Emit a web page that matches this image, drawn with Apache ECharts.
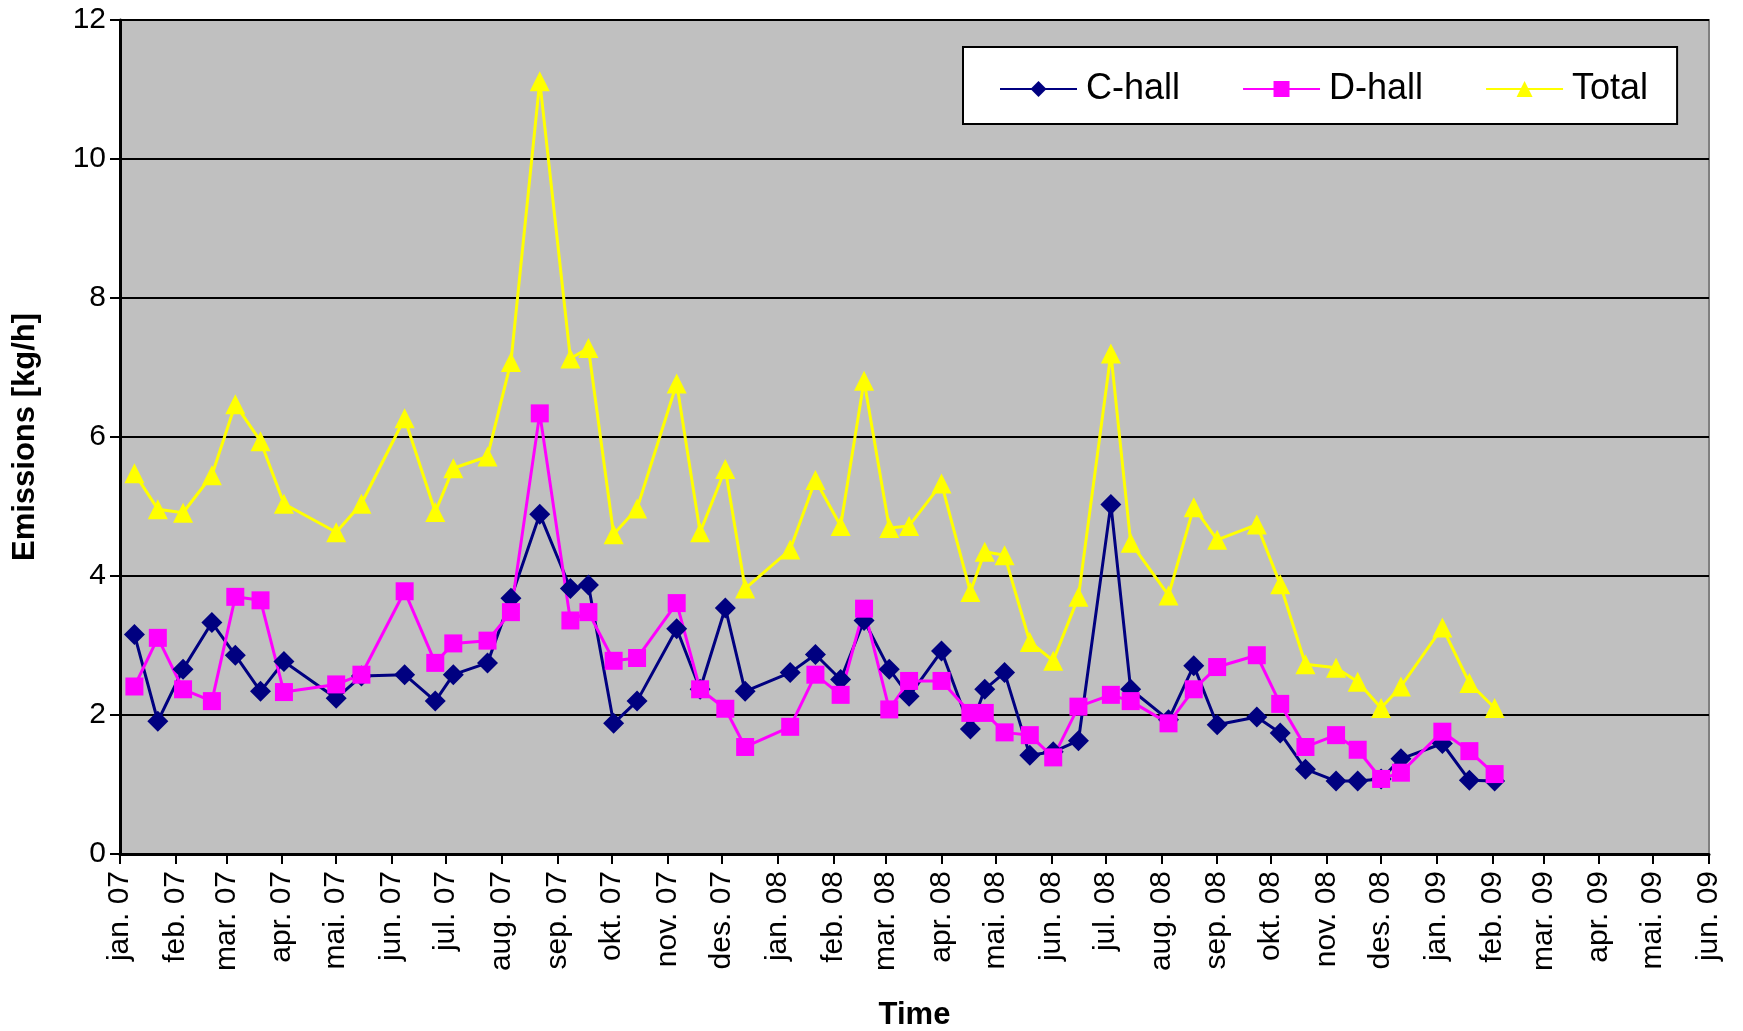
<!DOCTYPE html>
<html>
<head>
<meta charset="utf-8">
<title>Emissions</title>
<script src="https://cdn.jsdelivr.net/npm/echarts@6/dist/echarts.min.js"></script>
<style>
  html, body { margin: 0; padding: 0; background: #ffffff; }
  #chart { width: 1743px; height: 1031px; }
</style>
</head>
<body>
<div id="chart"></div>
<script>
// Sampling dates of the emission measurements
const sampleDates = [
  '2007-01-09', '2007-01-22', '2007-02-05', '2007-02-21', '2007-03-06', '2007-03-20',
  '2007-04-02', '2007-05-01', '2007-05-15', '2007-06-08', '2007-06-25', '2007-07-05',
  '2007-07-24', '2007-08-06', '2007-08-22', '2007-09-08', '2007-09-18', '2007-10-02',
  '2007-10-15', '2007-11-06', '2007-11-19', '2007-12-03', '2007-12-14', '2008-01-08',
  '2008-01-22', '2008-02-05', '2008-02-18', '2008-03-03', '2008-03-14', '2008-04-01',
  '2008-04-17', '2008-04-25', '2008-05-06', '2008-05-20', '2008-06-02', '2008-06-16',
  '2008-07-04', '2008-07-15', '2008-08-05', '2008-08-19', '2008-09-01', '2008-09-23',
  '2008-10-06', '2008-10-20', '2008-11-06', '2008-11-18', '2008-12-01', '2008-12-12',
  '2009-01-04', '2009-01-19', '2009-02-02'
];

// Emissions [kg/h]
const cHall = [
  3.16, 1.91, 2.66, 3.33, 2.86, 2.34, 2.77, 2.24, 2.56, 2.58, 2.20, 2.58,
  2.75, 3.68, 4.89, 3.82, 3.87, 1.88, 2.20, 3.24, 2.37, 3.54, 2.34, 2.61,
  2.87, 2.51, 3.36, 2.66, 2.27, 2.92, 1.80, 2.37, 2.61, 1.42, 1.47, 1.63,
  5.03, 2.37, 1.93, 2.71, 1.86, 1.97, 1.74, 1.22, 1.05, 1.05, 1.08, 1.37,
  1.59, 1.06, 1.05
];

const dHall = [
  2.41, 3.11, 2.37, 2.20, 3.70, 3.65, 2.33, 2.44, 2.58, 3.78, 2.75, 3.03,
  3.07, 3.48, 6.34, 3.36, 3.48, 2.78, 2.82, 3.61, 2.37, 2.09, 1.54, 1.83,
  2.58, 2.29, 3.53, 2.08, 2.49, 2.49, 2.03, 2.03, 1.75, 1.71, 1.39, 2.12,
  2.29, 2.20, 1.88, 2.37, 2.69, 2.86, 2.16, 1.54, 1.71, 1.50, 1.08, 1.17,
  1.76, 1.48, 1.15
];

const total = [
  5.48, 4.96, 4.91, 5.45, 6.47, 5.94, 5.04, 4.63, 5.04, 6.27, 4.92, 5.55,
  5.72, 7.08, 11.12, 7.13, 7.28, 4.60, 4.97, 6.77, 4.63, 5.54, 3.82, 4.38,
  5.38, 4.72, 6.81, 4.69, 4.72, 5.33, 3.77, 4.35, 4.30, 3.05, 2.78, 3.70,
  7.20, 4.48, 3.72, 4.99, 4.52, 4.74, 3.88, 2.73, 2.68, 2.48, 2.10, 2.41,
  3.26, 2.46, 2.10
];

// Month tick labels (Norwegian abbreviations)
const monthNames = ['jan.', 'feb.', 'mar.', 'apr.', 'mai.', 'jun.',
                    'jul.', 'aug.', 'sep.', 'okt.', 'nov.', 'des.'];
const axisStart = '2007-01-01';
const axisEnd = '2009-06-01';

const FONT = "'Liberation Sans', Arial, Helvetica, sans-serif";
const pairs = (vals) => sampleDates.map((d, i) => [d, vals[i]]);
const DAY = 24 * 3600 * 1000;

const chart = echarts.init(document.getElementById('chart'), null, { renderer: 'canvas' });

chart.setOption({
  animation: false,
  backgroundColor: '#ffffff',
  textStyle: { fontFamily: FONT },
  grid: {
    left: 120, right: 34, top: 20, bottom: 177,
    outerBoundsMode: 'none',
    containLabel: false,
    show: true,
    backgroundColor: '#c0c0c0',
    borderColor: '#808080',
    borderWidth: 2
  },
  legend: {
    left: 963, top: 47,
    backgroundColor: '#ffffff',
    borderColor: '#000000',
    borderWidth: 2,
    borderRadius: 0,
    padding: [24, 29, 17, 36],
    itemWidth: 77,
    itemHeight: 20,
    itemGap: 62,
    textStyle: { fontFamily: FONT, fontSize: 36, color: '#000000', padding: [0, 0, 0, 4] },
    data: ['C-hall', 'D-hall', 'Total']
  },
  xAxis: {
    type: 'time',
    min: axisStart,
    max: axisEnd,
    splitNumber: 29,
    minInterval: 28 * DAY,
    maxInterval: 31 * DAY,
    name: 'Time',
    nameLocation: 'middle',
    nameGap: 146,
    nameTextStyle: { fontFamily: FONT, fontSize: 31, fontWeight: 'bold', color: '#000000' },
    axisLine: { show: true, onZero: false, lineStyle: { color: '#000000', width: 3 } },
    axisTick: { show: true, inside: false, length: 10, lineStyle: { color: '#000000', width: 2 } },
    splitLine: { show: false },
    axisLabel: {
      rotate: 90,
      interval: 0,
      hideOverlap: false,
      margin: 17,
      fontFamily: FONT,
      fontSize: 30,
      color: '#000000',
      formatter: function (value) {
        const d = new Date(value);
        return monthNames[d.getMonth()] + ' ' + String(d.getFullYear()).slice(2);
      }
    }
  },
  yAxis: {
    type: 'value',
    min: 0,
    max: 12,
    interval: 2,
    name: 'Emissions [kg/h]',
    nameLocation: 'middle',
    nameRotate: 90,
    nameGap: 79,
    nameTextStyle: { fontFamily: FONT, fontSize: 31, fontWeight: 'bold', color: '#000000' },
    axisLine: { show: true, lineStyle: { color: '#000000', width: 3 } },
    axisTick: { show: true, inside: false, length: 10, lineStyle: { color: '#000000', width: 2 } },
    splitLine: { show: true, lineStyle: { color: '#000000', width: 2 } },
    axisLabel: { margin: 14, fontFamily: FONT, fontSize: 30, color: '#000000' }
  },
  series: [
    {
      name: 'C-hall', type: 'line', data: pairs(cHall),
      symbol: 'diamond', symbolSize: 21,
      lineStyle: { color: '#000080', width: 3 },
      itemStyle: { color: '#000080' }
    },
    {
      name: 'D-hall', type: 'line', data: pairs(dHall),
      symbol: 'rect', symbolSize: 18,
      lineStyle: { color: '#ff00ff', width: 3 },
      itemStyle: { color: '#ff00ff' }
    },
    {
      name: 'Total', type: 'line', data: pairs(total),
      symbol: 'triangle', symbolSize: 20,
      lineStyle: { color: '#ffff00', width: 3 },
      itemStyle: { color: '#ffff00' }
    }
  ]
});
</script>
</body>
</html>
